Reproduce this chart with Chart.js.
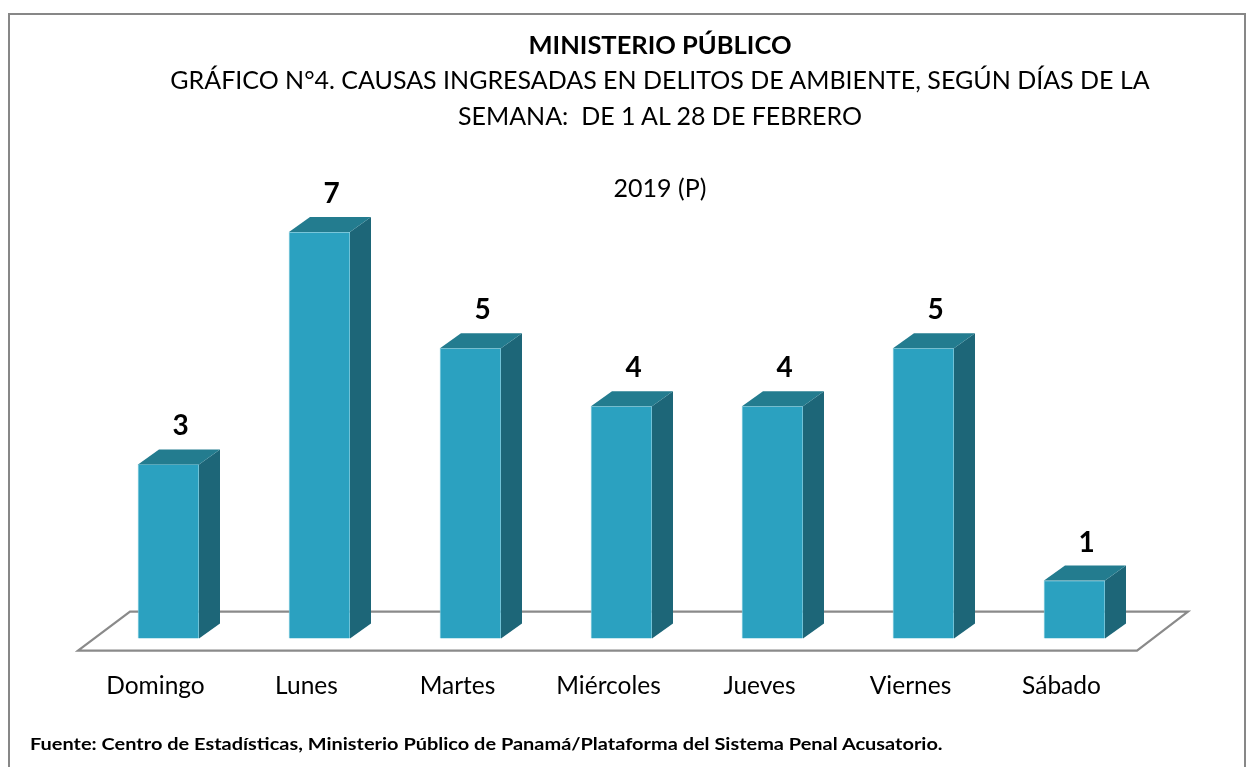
<!DOCTYPE html>
<html>
<head>
<meta charset="utf-8">
<script src="https://cdn.jsdelivr.net/npm/chart.js@4.4.1/dist/chart.umd.min.js"></script>
<style>
  body { margin: 0; background: #fff; font-family: Lato, "Open Sans", sans-serif; }
  #wrap { position: relative; width: 1250px; height: 767px; overflow: hidden; }
  #frame { position: absolute; left: 8px; top: 13px; width: 1234px; height: 800px; border: 2px solid #878787; }
  canvas { position: absolute; left: 0; top: 0; }
  .t { position: absolute; left: 0; width: 1320px; text-align: center; color: #000; font-size: 25px; white-space: nowrap; }
  #foot { position: absolute; left: 30px; top: 733px; font-size: 17.5px; font-weight: bold; white-space: nowrap;
          transform: scaleX(1.14); transform-origin: left top; }
</style>
</head>
<body>
<div id="wrap">
  <div id="frame"></div>
  <canvas id="chart" width="1250" height="767"></canvas>
  <div class="t" style="top:29px;font-weight:bold;font-size:25.5px">MINISTERIO PÚBLICO</div>
  <div class="t" style="top:64px">GRÁFICO N°4. CAUSAS INGRESADAS EN DELITOS DE AMBIENTE, SEGÚN DÍAS DE LA</div>
  <div class="t" style="top:100px">SEMANA:&nbsp; DE 1 AL 28 DE FEBRERO</div>
  <div class="t" style="top:172px">2019 (P)</div>
  <div id="foot">Fuente: Centro de Estadísticas, Ministerio Público de Panamá/Plataforma del Sistema Penal Acusatorio.</div>
</div>
<script>
  // Data
  const dias = ['Domingo', 'Lunes', 'Martes', 'Miércoles', 'Jueves', 'Viernes', 'Sábado'];
  const causas = [3, 7, 5, 4, 4, 5, 1];

  const frontColor = 'rgb(43, 161, 192)';
  const sideColor = 'rgb(29, 102, 120)';
  const topColor = 'rgb(35, 124, 143)';
  const depthX = 21;
  const depthY = 15;

  // floor + 3d faces + value labels
  const bars3d = {
    id: 'bars3d',
    beforeDatasetsDraw(chart) {
      const ctx = chart.ctx;
      const a = chart.chartArea;
      const back = a.bottom - 27;
      const front = a.bottom + 12;
      ctx.save();
      ctx.strokeStyle = '#8a8a8a';
      ctx.lineWidth = 2.2;
      ctx.beginPath();
      ctx.moveTo(a.left - 15, front);
      ctx.lineTo(a.left + 37, back);
      ctx.lineTo(a.right + 38, back);
      ctx.lineTo(a.right - 13, front);
      ctx.closePath();
      ctx.stroke();
      ctx.restore();
    },
    afterDatasetsDraw(chart) {
      const ctx = chart.ctx;
      const meta = chart.getDatasetMeta(0);
      ctx.save();
      meta.data.forEach(function(bar, i) {
        const left = bar.x - bar.width / 2;
        const right = bar.x + bar.width / 2;
        const top = bar.y;
        const bottom = bar.base;
        // side
        ctx.fillStyle = sideColor;
        ctx.beginPath();
        ctx.moveTo(right, top);
        ctx.lineTo(right + depthX, top - depthY);
        ctx.lineTo(right + depthX, bottom - depthY);
        ctx.lineTo(right, bottom);
        ctx.closePath();
        ctx.fill();
        // top
        ctx.fillStyle = topColor;
        ctx.beginPath();
        ctx.moveTo(left, top);
        ctx.lineTo(left + depthX, top - depthY);
        ctx.lineTo(right + depthX, top - depthY);
        ctx.lineTo(right, top);
        ctx.closePath();
        ctx.fill();
        // value
        ctx.fillStyle = '#000';
        ctx.font = 'bold 28px Lato, sans-serif';
        ctx.textAlign = 'center';
        ctx.textBaseline = 'middle';
        ctx.fillText(String(causas[i]), bar.x + 12, top - depthY - 23);
      });
      ctx.restore();
    }
  };

  new Chart(document.getElementById('chart').getContext('2d'), {
    type: 'bar',
    data: {
      labels: dias,
      datasets: [{
        data: causas,
        backgroundColor: frontColor,
        borderColor: 'rgba(120, 200, 220, 0.8)',
        borderWidth: 1,
        barThickness: 61
      }]
    },
    options: {
      responsive: false,
      animation: false,
      layout: { padding: { left: 93, right: 100, top: 174, bottom: 33 } },
      plugins: { legend: { display: false }, tooltip: { enabled: false } },
      scales: {
        x: {
          grid: { display: false, drawTicks: false },
          border: { display: false },
          ticks: {
            color: '#000',
            font: { family: 'Lato', size: 24.5 },
            padding: 33,
            labelOffset: -13,
            maxRotation: 0
          }
        },
        y: {
          display: false,
          min: 0,
          max: 8
        }
      }
    },
    plugins: [bars3d]
  });
</script>
</body>
</html>
